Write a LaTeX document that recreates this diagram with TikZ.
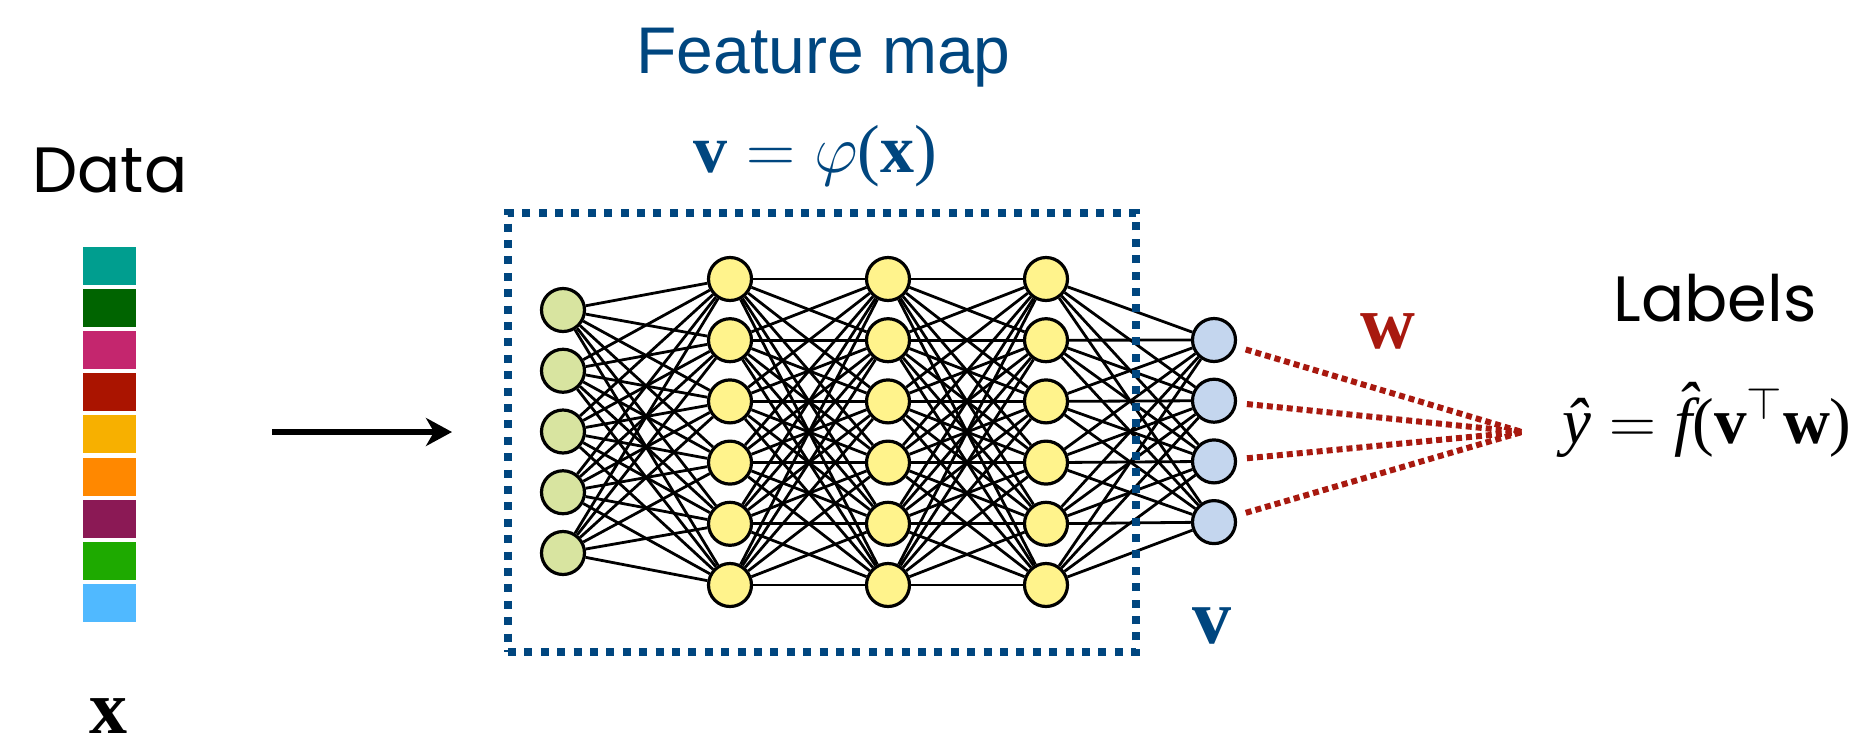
\RequirePackage{fix-cm}
\documentclass[tikz,border=0pt]{standalone}
\usepackage{fontspec}
\usepackage{graphicx}
\newfontfamily\poppfont{Poppins}
\newfontfamily\arialfont{Liberation Sans}
\newfontfamily\tnr{Liberation Serif}
\newcommand\tbf[1]{{\tnr\bfseries #1}}
\newcommand\tit[1]{{\tnr\itshape #1}}
\newcommand\myfhat{\ooalign{\tit{f}\cr\hidewidth\kern0.12em\raisebox{0.24em}{\tit{ˆ}}\hidewidth\cr}}
\usetikzlibrary{arrows.meta,backgrounds}
\definecolor{navy}{RGB}{0,70,127}
\definecolor{wred}{RGB}{168,25,15}
\definecolor{ngreen}{RGB}{216,228,160}
\definecolor{nyellow}{RGB}{255,243,140}
\definecolor{nblue}{RGB}{196,214,238}
\definecolor{dA}{RGB}{0,158,143}
\definecolor{dB}{RGB}{0,100,0}
\definecolor{dC}{RGB}{196,38,110}
\definecolor{dD}{RGB}{170,20,0}
\definecolor{dE}{RGB}{247,176,0}
\definecolor{dF}{RGB}{255,136,0}
\definecolor{dG}{RGB}{139,25,85}
\definecolor{dH}{RGB}{30,170,0}
\definecolor{dI}{RGB}{80,185,255}
\tikzset{
  neuron/.style={circle, draw=black, line width=1.6pt, minimum size=21.5pt, inner sep=0pt},
  edge/.style={draw=black, line width=1.4pt},
  cell/.style={rectangle, inner sep=0pt, minimum width=26.5pt, minimum height=19pt},
  reddot/.style={draw=wred, line width=3pt, dash pattern=on 3pt off 2pt, shorten <=5pt},
  fmbox/.style={draw=navy, line width=4pt, dash pattern=on 4pt off 4.2pt, minimum width=314pt, minimum height=219.5pt, inner sep=0pt}
}
\begin{document}
\begin{tikzpicture}[x={(0.5pt,0)}, y={(0,-0.5pt)}]
\useasboundingbox (0,0) rectangle (1870,745);

% Data column
\node[anchor=base, font=\poppfont\fontsize{32}{38}\selectfont] (data) at (110,192) {Data};
\foreach \c [count=\i from 0] in {dA,dB,dC,dD,dE,dF,dG,dH,dI}
  \node[cell, fill=\c] (d\i) at (109.5,{266+\i*42.1}) {};
\node[anchor=base, inner sep=0pt] (xlab) at (109,733) {\fontsize{38}{42}\selectfont\tbf{x}};

% Arrow
\coordinate (arrS) at (272,432);
\coordinate (arrE) at (452,432);
\draw[line width=3pt, -{Stealth[length=13pt, width=14pt, inset=4pt]}] (arrS) -- (arrE);

% Titles
\node[anchor=base, text=navy] (fm) at (823.5,73) {\arialfont\fontsize{33}{38}\selectfont Feature map};
\node[anchor=base, text=navy] (vphi) at (815,172) {\fontsize{34}{40}\selectfont\tbf{v}\hspace{0.28em}$=$\hspace{0.28em}$\varphi$\tnr(\tbf{x}\tnr)};

% Network nodes
\foreach \i in {1,...,5}
  \node[neuron, fill=ngreen] (a\i) at (563,{310+(\i-1)*60.75}) {};
\foreach \i in {1,...,6} {
  \node[neuron, fill=nyellow] (b\i) at (730,{279+(\i-1)*61.2}) {};
  \node[neuron, fill=nyellow] (m\i) at (888,{279+(\i-1)*61.2}) {};
  \node[neuron, fill=nyellow] (n\i) at (1046,{279+(\i-1)*61.2}) {};
}
\foreach \i in {1,...,4}
  \node[neuron, fill=nblue] (c\i) at (1214,{340+(\i-1)*60.7}) {};

\begin{scope}[on background layer]
\foreach \i in {1,...,5}
  \foreach \j in {1,...,6}
    \draw[edge] (a\i) -- (b\j);
\foreach \i in {1,...,6}
  \foreach \j in {1,...,6} {
    \draw[edge] (b\i) -- (m\j);
    \draw[edge] (m\i) -- (n\j);
  }
\foreach \i in {1,...,6}
  \foreach \j in {1,...,4}
    \draw[edge] (n\i) -- (c\j);
\end{scope}

% Feature map box
\node[fmbox] (box) at (822,432.5) {};

% v label
\node[anchor=base, text=navy] (vlab) at (1212,643) {\fontsize{39}{44}\selectfont\tbf{v}};

% red weights
\coordinate (conv) at (1522,432);
\foreach \j in {1,...,4}
  \draw[reddot] (c\j) -- (conv);
\node[anchor=base, text=wred, inner sep=0pt] (wlab) at (1388,348) {\fontsize{38}{44}\selectfont\tbf{w}};

% Labels
\node[anchor=base, font=\poppfont\fontsize{32}{38}\selectfont] (lab) at (1715,321) {Labels};
\node[anchor=base west, inner sep=0pt] (yhat) at (1562,443) {\fontsize{32.5}{38}\selectfont\tit{ŷ}\hspace{0.28em}$=$\hspace{0.28em}\myfhat\tnr(\tbf{v}$^{\top}$\tbf{w}\tnr)};
\end{tikzpicture}
\end{document}
